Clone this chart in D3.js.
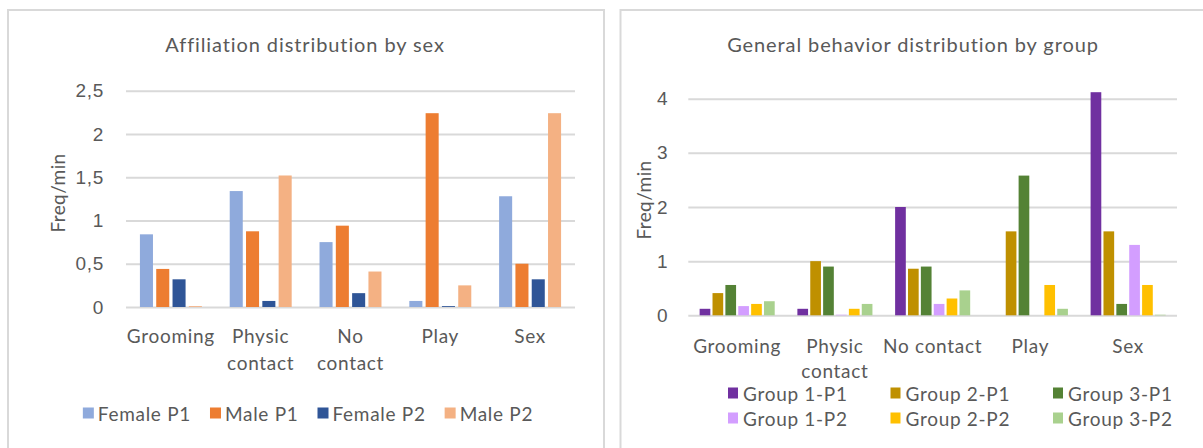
<!DOCTYPE html>
<html>
<head>
<meta charset="utf-8">
<script src="https://cdn.jsdelivr.net/npm/d3@7"></script>
<style>
  html, body { margin: 0; padding: 0; background: #fff; }
  svg { display: block; font-family: Lato, "Open Sans", sans-serif; }
  svg text { font-size: 19px; letter-spacing: 0.7px; }
</style>
</head>
<body>
<svg id="chart" width="1203" height="448"></svg>
<script>
// ---- Affiliation by sex ----
const affCategories = ["Grooming", "Physic contact", "No contact", "Play", "Sex"];
const affSeries = ["Female P1", "Male P1", "Female P2", "Male P2"];
const affFemaleP1 = [0.84, 1.34, 0.75, 0.07, 1.28];
const affMaleP1   = [0.44, 0.875, 0.94, 2.24, 0.50];
const affFemaleP2 = [0.32, 0.07, 0.16, 0.01, 0.32];
const affMaleP2   = [0.01, 1.52, 0.41, 0.25, 2.24];
const affTicks = [0, 0.5, 1, 1.5, 2, 2.5];
const affColors = ["#8FAADC", "#ED7D31", "#2F5597", "#F4B183"];

// ---- General behavior by group ----
const genCategories = ["Grooming", "Physic contact", "No contact", "Play", "Sex"];
const genSeries = ["Group 1-P1", "Group 2-P1", "Group 3-P1", "Group 1-P2", "Group 2-P2", "Group 3-P2"];
const genGroup1P1 = [0.12, 0.12, 2.0, 0, 4.12];
const genGroup2P1 = [0.41, 1.0, 0.86, 1.55, 1.55];
const genGroup3P1 = [0.56, 0.9, 0.9, 2.58, 0.21];
const genGroup1P2 = [0.17, 0.01, 0.21, 0, 1.3];
const genGroup2P2 = [0.21, 0.12, 0.31, 0.56, 0.56];
const genGroup3P2 = [0.26, 0.21, 0.46, 0.12, 0.01];
const genTicks = [0, 1, 2, 3, 4];
const genColors = ["#7030A0", "#BF9000", "#548235", "#D39EFF", "#FFC000", "#A9D18E"];

const TEXT = "#595959";
const GRID = "#d9d9d9";
const svg = d3.select("#chart");
const fmt = v => String(v).replace(".", ",");

// panel frames
svg.append("rect").attr("x", 8).attr("y", 10).attr("width", 596).attr("height", 460)
  .attr("fill", "#fff").attr("stroke", "#d9d9d9").attr("stroke-width", 2);
svg.append("rect").attr("x", 620.5).attr("y", 10).attr("width", 600).attr("height", 460)
  .attr("fill", "#fff").attr("stroke", "#d9d9d9").attr("stroke-width", 2);

function wrapLines(text, maxWidth, probe) {
  probe.text(text);
  if (probe.node().getComputedTextLength() <= maxWidth) return [text];
  return text.split(" ");
}

function drawChart(o) {
  const g = svg.append("g");
  const x0 = d3.scaleBand().domain(o.categories).range([o.left, o.right])
    .paddingInner(o.groupPad).paddingOuter(o.groupPad / 2);
  const x1 = d3.scaleBand().domain(o.series).range([0, x0.bandwidth()])
    .paddingInner(o.barPad).paddingOuter(0);
  const y = d3.scaleLinear().domain(o.domain).range([o.bottom, o.top]);

  // title
  g.append("text").attr("x", o.titleX).attr("y", o.titleY)
    .attr("text-anchor", "middle").attr("fill", TEXT)
    .style("font-size", "20px").style("letter-spacing", "0.9px").text(o.title);

  // value axis with gridlines
  const ya = g.append("g").attr("transform", `translate(${o.left},0)`)
    .call(d3.axisLeft(y).tickValues(o.ticks).tickFormat(o.format)
      .tickSize(-(o.right - o.left)).tickPadding(o.tickPad));
  ya.select(".domain").remove();
  ya.selectAll(".tick line").attr("stroke", GRID).attr("stroke-width", 2);
  ya.selectAll(".tick text").attr("fill", TEXT).attr("font-size", null)
    .attr("font-family", null);

  // axis title
  g.append("text")
    .attr("transform", `translate(${o.yTitleX},${o.yTitleY}) rotate(-90)`)
    .attr("text-anchor", "middle").attr("dominant-baseline", "central")
    .attr("fill", TEXT).style("letter-spacing", "0.4px").text("Freq/min");

  // bars
  o.series.forEach((s, si) => {
    g.append("g").selectAll("rect").data(o.values[si]).join("rect")
      .attr("x", (d, i) => x0(o.categories[i]) + x1(s))
      .attr("width", x1.bandwidth())
      .attr("y", d => y(d))
      .attr("height", d => y(0) - y(d))
      .attr("fill", o.colors[si]);
  });

  // category labels
  const probe = g.append("text").attr("opacity", 0);
  o.categories.forEach(c => {
    const lines = wrapLines(c, o.wrapWidth, probe);
    const t = g.append("text").attr("text-anchor", "middle").attr("fill", TEXT);
    lines.forEach((ln, li) => {
      t.append("tspan").attr("x", x0(c) + x0.bandwidth() / 2)
        .attr("y", o.catY + li * o.catLine).text(ln);
    });
  });
  probe.remove();

  return g;
}

// left chart
drawChart({
  categories: affCategories, series: affSeries,
  values: [affFemaleP1, affMaleP1, affFemaleP2, affMaleP2],
  colors: affColors, ticks: affTicks, domain: [0, 2.5], format: fmt,
  left: 126, right: 575, top: 90.7, bottom: 307,
  groupPad: 0.31, barPad: 0.2, tickPad: 22,
  title: "Affiliation distribution by sex", titleX: 305, titleY: 52,
  yTitleX: 57, yTitleY: 193,
  catY: 343, catLine: 27, wrapWidth: 75
});

// right chart
drawChart({
  categories: genCategories, series: genSeries,
  values: [genGroup1P1, genGroup2P1, genGroup3P1, genGroup1P2, genGroup2P2, genGroup3P2],
  colors: genColors, ticks: genTicks, domain: [0, 4], format: d => d,
  left: 688.3, right: 1177, top: 98.7, bottom: 315.3,
  groupPad: 0.232, barPad: 0.17, tickPad: 20,
  title: "General behavior distribution by group", titleX: 913, titleY: 52,
  yTitleX: 643, yTitleY: 200,
  catY: 353, catLine: 25, wrapWidth: 108
});

// legend: single row, centred in the left panel
(function () {
  const g = svg.append("g");
  const gap = 19;
  let x = 0;
  affSeries.forEach((s, i) => {
    const it = g.append("g");
    it.append("rect").attr("x", 0).attr("y", -5.5).attr("width", 11).attr("height", 11)
      .attr("fill", affColors[i]);
    const t = it.append("text").attr("x", 15).attr("y", 0).attr("dominant-baseline", "central")
      .attr("fill", TEXT).text(s);
    it.attr("transform", `translate(${x},0)`);
    x += 15 + t.node().getComputedTextLength() + gap;
  });
  const total = x - gap;
  g.attr("transform", `translate(${308 - total / 2},413)`);
})();

// legend: three columns, two rows
(function () {
  const g = svg.append("g").attr("transform", "translate(728,393)");
  genSeries.forEach((s, i) => {
    const col = i % 3, row = Math.floor(i / 3);
    const it = g.append("g").attr("transform", `translate(${col * 162.5},${row * 25})`);
    it.append("rect").attr("x", 0).attr("y", -5.5).attr("width", 10).attr("height", 11)
      .attr("fill", genColors[i]);
    it.append("text").attr("x", 15).attr("y", 0).attr("dominant-baseline", "central")
      .attr("fill", TEXT).text(s);
  });
})();
</script>
</body>
</html>
